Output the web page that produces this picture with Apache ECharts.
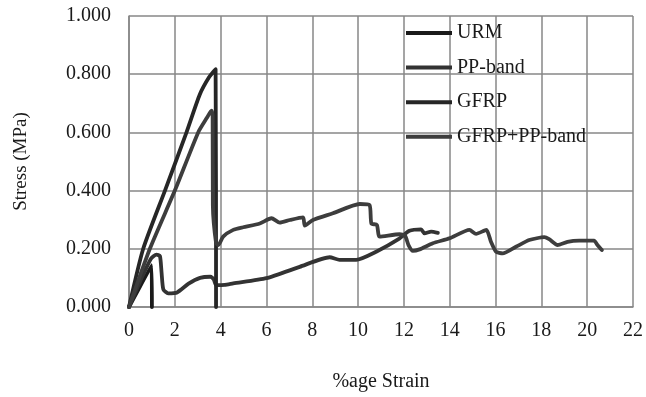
<!DOCTYPE html>
<html>
<head>
<meta charset="utf-8">
<script src="https://cdn.jsdelivr.net/npm/echarts@6/dist/echarts.min.js"></script>
<style>
  html, body { margin: 0; padding: 0; background: #fff; }
  #stressChart { width: 646px; height: 397px; }
</style>
</head>
<body>
<div id="stressChart"></div>
<script>
// strain (%) / stress (MPa) pairs
var urmData = [[0, 0], [0.99, 0.144], [1.0, 0]]

var ppBandData = [
  [0, 0], [0.5, 0.09], [0.95, 0.165], [1.2, 0.18], [1.35, 0.175], [1.42, 0.12],
  [1.5, 0.06], [1.71, 0.047], [2.1, 0.05], [2.6, 0.08], [3.1, 0.1], [3.55, 0.104],
  [3.7, 0.095], [3.8, 0.075], [4.18, 0.076], [4.55, 0.081], [6.0, 0.099], [7.45, 0.138],
  [8.76, 0.171], [9.19, 0.162], [9.92, 0.162], [10.79, 0.19], [11.8, 0.235], [12.24, 0.262],
  [12.75, 0.267], [12.9, 0.253], [13.19, 0.259], [13.48, 0.255]
]

var gfrpData = [
  [0, 0], [0.62, 0.2], [1.57, 0.4], [2.51, 0.6], [3.09, 0.73], [3.5, 0.79],
  [3.78, 0.817], [3.8, 0]
]

var gfrpPpData = [
  [0, 0], [0.91, 0.2], [2.0, 0.4], [3.02, 0.6], [3.4, 0.65], [3.6, 0.675], [3.65, 0.66],
  [3.66, 0.35], [3.8, 0.22], [3.9, 0.213], [4.11, 0.242], [4.55, 0.265], [4.98, 0.274],
  [5.71, 0.287], [6.22, 0.305], [6.58, 0.29], [7.02, 0.299], [7.6, 0.308], [7.67, 0.28],
  [8.03, 0.299], [8.9, 0.322], [10.07, 0.354], [10.5, 0.35], [10.58, 0.287], [10.82, 0.282],
  [10.94, 0.242], [11.81, 0.25], [12.05, 0.245], [12.2, 0.213], [12.39, 0.193], [12.68, 0.198],
  [13.26, 0.219], [13.99, 0.236], [14.86, 0.265], [15.15, 0.251], [15.6, 0.265], [15.8, 0.224],
  [16.02, 0.19], [16.31, 0.184], [16.89, 0.207], [17.47, 0.23], [18.13, 0.24], [18.34, 0.233],
  [18.71, 0.213], [19.14, 0.224], [19.65, 0.228], [20.3, 0.228], [20.45, 0.213], [20.64, 0.196]
]

var seriesNames = ['URM', 'PP-band', 'GFRP', 'GFRP+PP-band']
var seriesColors = ['#1a1a1a', '#333333', '#262626', '#3d3d3d']

var font = '"Liberation Serif", "Times New Roman", serif'
var gridColor = '#878787'

function lineSeries(name, data) {
  return {
    name: name,
    type: 'line',
    data: data,
    showSymbol: false,
    animation: false,
    smooth: 0.2,
    lineStyle: { width: 3.8, cap: 'round', join: 'round' }
  }
}

var chart = echarts.init(document.getElementById('stressChart'))
chart.setOption({
  color: seriesColors,
  grid: { left: 129, right: 12, top: 16, bottom: 90 },
  legend: {
    orient: 'vertical',
    left: 406,
    top: 23,
    padding: 0,
    icon: 'rect',
    itemWidth: 46,
    itemHeight: 4,
    itemGap: 14.6,
    textStyle: { fontFamily: font, fontSize: 20, lineHeight: 20, color: '#1a1a1a' },
    data: seriesNames
  },
  xAxis: {
    type: 'value',
    min: 0,
    max: 22,
    interval: 2,
    name: '%age Strain',
    nameLocation: 'middle',
    nameGap: 65,
    nameTextStyle: { fontFamily: font, fontSize: 20, color: '#1a1a1a' },
    axisLine: { lineStyle: { color: gridColor, width: 1.5 } },
    axisTick: { show: false },
    axisLabel: { fontFamily: font, fontSize: 20, color: '#1a1a1a', margin: 14 },
    splitLine: { show: true, lineStyle: { color: gridColor, width: 1.5 } }
  },
  yAxis: {
    type: 'value',
    min: 0,
    max: 1,
    interval: 0.2,
    name: 'Stress (MPa)',
    nameLocation: 'middle',
    nameGap: 98,
    nameTextStyle: { fontFamily: font, fontSize: 19, color: '#1a1a1a' },
    axisLine: { show: true, lineStyle: { color: gridColor, width: 1.5 } },
    axisTick: { show: false },
    axisLabel: {
      fontFamily: font, fontSize: 20, color: '#1a1a1a', margin: 18,
      formatter: function (v) { return v.toFixed(3) }
    },
    splitLine: { show: true, lineStyle: { color: gridColor, width: 1.5 } }
  },
  series: [
    lineSeries('URM', urmData),
    lineSeries('PP-band', ppBandData),
    lineSeries('GFRP', gfrpData),
    lineSeries('GFRP+PP-band', gfrpPpData)
  ]
})
</script>
</body>
</html>
